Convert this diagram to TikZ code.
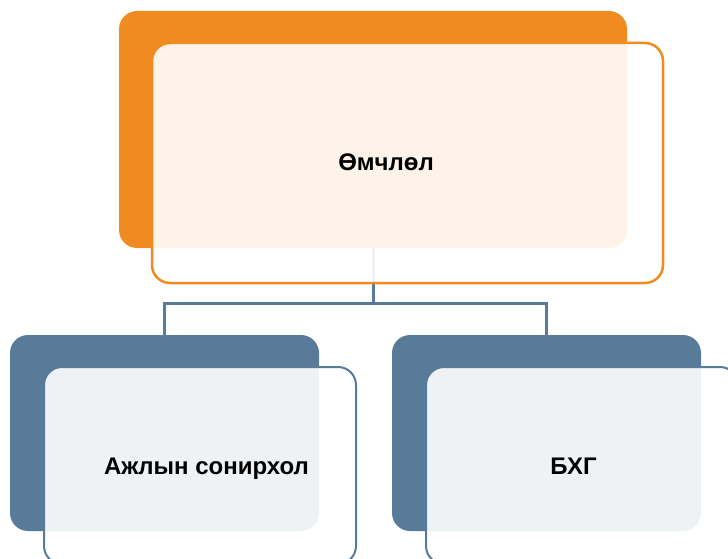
\documentclass[tikz,border=0pt]{standalone}
\usepackage{fontspec}
\setmainfont{Liberation Sans}
\definecolor{umchOrange}{RGB}{240,139,34}
\definecolor{slateBlue}{RGB}{89,123,154}
\tikzset{
  backpanel/.style={rectangle, rounded corners=18pt, fill=#1, draw=none, inner sep=0pt},
  frontpanel/.style={rectangle, rounded corners=18pt, fill=white, fill opacity=0.9, draw=#1, line width=2.5pt, inner sep=0pt},
  lbl/.style={font=\fontsize{24}{28}\selectfont\bfseries, anchor=base, inner sep=0pt},
  link/.style={draw=slateBlue, line width=3pt}
}
\begin{document}
\begin{tikzpicture}[x=1pt,y=-1pt]
\useasboundingbox (0,0) rectangle (728,559);
\clip (0,0) rectangle (728,559);
% back panels
\node[backpanel=umchOrange, minimum width=508pt, minimum height=237pt] (own) at (373,129.5) {};
\node[backpanel=slateBlue, minimum width=309pt, minimum height=196pt] (work) at (164.5,433) {};
\node[backpanel=slateBlue, minimum width=309pt, minimum height=196pt] (bhg) at (546.5,433) {};
% tree lines
\coordinate (fork) at ([yshift=-55pt]own.south);
\draw[link] (own.south) -- (fork) -| (work.north);
\draw[link] (fork) -| (bhg.north);
% front panels
\node[frontpanel=umchOrange, minimum width=511pt, minimum height=240pt] (ownf) at (407.5,163) {};
\node[frontpanel=slateBlue, line width=2pt, minimum width=312pt, minimum height=197pt] (workf) at (200,465.5) {};
\node[frontpanel=slateBlue, line width=2pt, minimum width=312pt, minimum height=197pt] (bhgf) at (582,465.5) {};
% labels
\node[lbl] (ownt) at (386,171) {Өмчлөл};
\node[lbl] (workt) at (206.5,474) {Ажлын сонирхол};
\node[lbl] (bhgt) at (573.5,474) {БХГ};
\end{tikzpicture}
\end{document}
